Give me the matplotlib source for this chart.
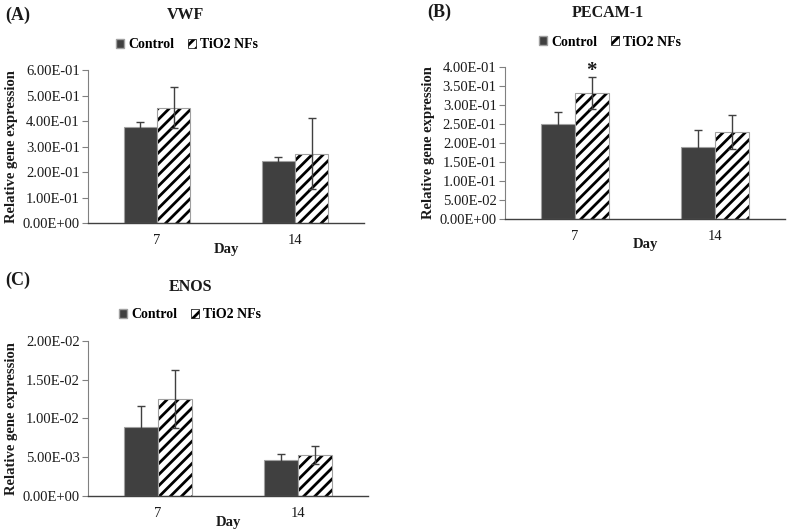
import numpy as np
import matplotlib
matplotlib.use("Agg")
import matplotlib.pyplot as plt
from matplotlib.patches import Patch

plt.rcParams["font.family"] = ["Liberation Serif", "DejaVu Serif"]
plt.rcParams["hatch.linewidth"] = 2.0

days = ["7", "14"]
series = ["Control", "TiO2 NFs"]

# VWF
vwf_ctrl = [0.378, 0.244]
vwf_ctrl_err = [0.019, 0.016]
vwf_tio2 = [0.452, 0.272]
vwf_tio2_err = [0.080, 0.138]

# PECAM-1
pecam_ctrl = [0.249, 0.190]
pecam_ctrl_err = [0.033, 0.044]
pecam_tio2 = [0.330, 0.228]
pecam_tio2_err = [0.042, 0.045]

# ENOS
enos_ctrl = [0.0089, 0.00465]
enos_ctrl_err = [0.0027, 0.0008]
enos_tio2 = [0.0125, 0.00526]
enos_tio2_err = [0.0037, 0.0012]

W, H = 787, 529
fig = plt.figure(figsize=(W / 100, H / 100), dpi=100)

DARK = "#404040"
EDGE = "#a0a0a0"
TXT = "#1a1a1a"


def fx(px):
    return px / W


def fy(py):
    return 1 - py / H


def panel(rect, letter, letter_pos, title, title_pos, leg_pos,
          ctrl, ctrl_err, tio2, tio2_err, ymax, ystep, star=False):
    ax = fig.add_axes(rect)
    x = np.arange(len(days))
    w = 0.24
    ax.bar(x - w / 2, ctrl, w, color=DARK, edgecolor=EDGE, linewidth=0.8, zorder=2)
    # hatched bars: black hatch, then a gray outline on top
    ax.bar(x + w / 2, tio2, w, color="white", edgecolor="black", hatch="///",
           linewidth=0, zorder=2)
    ax.bar(x + w / 2, tio2, w, fill=False, edgecolor=EDGE, linewidth=0.8, zorder=2)
    ax.errorbar(x - w / 2, ctrl, yerr=ctrl_err, fmt="none", ecolor=DARK,
                elinewidth=1, capsize=3, capthick=1, zorder=3)
    ax.errorbar(x + w / 2, tio2, yerr=tio2_err, fmt="none", ecolor=DARK,
                elinewidth=1, capsize=3, capthick=1, zorder=3)
    ax.set_xlim(-0.5, 1.5)
    ax.set_ylim(0, ymax)
    ticks = np.arange(0, ymax + ystep / 2, ystep)
    ax.set_yticks(ticks)
    ax.set_yticklabels(["%.2E" % t for t in ticks], fontsize=10.5, color=TXT)
    ax.set_xticks(x)
    ax.set_xticklabels(days, fontsize=10.5, color=TXT)
    ax.tick_params(axis="x", length=0, pad=8)
    ax.tick_params(axis="y", length=4, width=0.8, color="#808080", pad=2)
    for s in ["top", "right"]:
        ax.spines[s].set_visible(False)
    ax.spines["left"].set_color("#808080")
    ax.spines["bottom"].set_color("#404040")
    ax.spines["bottom"].set_linewidth(1.0)
    ax.set_ylabel("Relative gene expression", fontsize=10.5, fontweight="bold",
                  labelpad=3, color=TXT)
    ax.text(0.5, -0.17, "Day", transform=ax.transAxes, ha="center", va="center",
            fontsize=10.5, fontweight="bold", color=TXT)
    fig.text(fx(title_pos[0]), fy(title_pos[1]), title, ha="center", va="center",
             fontsize=11.5, fontweight="bold", color=TXT)
    fig.text(fx(letter_pos[0]), fy(letter_pos[1]), letter, ha="left", va="center",
             fontsize=13, fontweight="bold", color=TXT)
    handles = [Patch(facecolor=DARK, edgecolor=EDGE, label=series[0]),
               Patch(facecolor="white", edgecolor="black", hatch="///",
                     linewidth=0.5, label=series[1])]
    fig.legend(handles=handles, loc="center", bbox_to_anchor=(fx(leg_pos[0]), fy(leg_pos[1])),
               ncol=2, frameon=False, handlelength=0.6, handleheight=0.6,
               handletextpad=0.3, columnspacing=1.0,
               prop={"weight": "bold", "size": 10})
    if star:
        ax.text(x[0] + w / 2, tio2[0] + tio2_err[0] + ymax * 0.04, "*",
                ha="center", va="center", fontsize=15, fontweight="bold", color=TXT)
    return ax


panel([0.1118, 0.5784, 0.3507, 0.2892], "(A)", (5, 15), "VWF", (185, 15), (187, 45),
      vwf_ctrl, vwf_ctrl_err, vwf_tio2, vwf_tio2_err, 0.6, 0.1)
panel([0.6417, 0.586, 0.3558, 0.288], "(B)", (427, 12), "PECAM-1", (608, 13), (610, 42),
      pecam_ctrl, pecam_ctrl_err, pecam_tio2, pecam_tio2_err, 0.4, 0.05, star=True)
panel([0.1118, 0.0629, 0.356, 0.2925], "(C)", (5, 280), "ENOS", (190, 287), (190, 315),
      enos_ctrl, enos_ctrl_err, enos_tio2, enos_tio2_err, 0.02, 0.005)

fig.savefig("out.png", dpi=100)
